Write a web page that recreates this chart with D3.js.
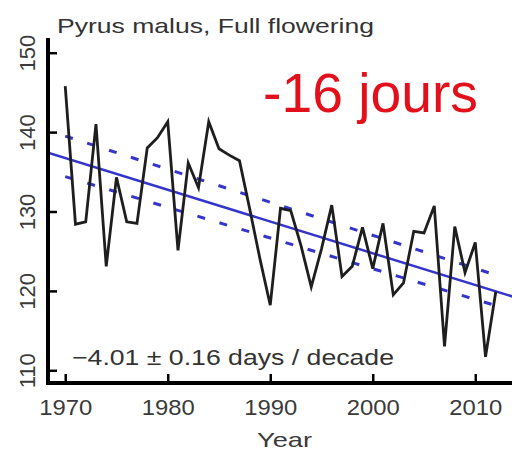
<!DOCTYPE html>
<html>
<head>
<meta charset="utf-8">
<script src="https://cdn.jsdelivr.net/npm/d3@7"></script>
<style>
  html, body { margin: 0; padding: 0; background: #fff; }
  svg { display: block; }
  text { font-family: "Liberation Sans", Arial, Helvetica, sans-serif; }
</style>
</head>
<body>
<svg id="chart" width="512" height="452"></svg>
<script>
// ---- data ----
const years = d3.range(1970, 2013);
const flowering = [
  145.8, 128.4, 128.7, 141.0, 123.1, 134.3, 128.7, 128.5, 138.0, 139.3,
  141.3, 125.1, 136.1, 133.0, 141.3, 137.9, 137.1, 136.4, 130.3, 124.0,
  118.2, 130.4, 130.1, 125.7, 120.5, 125.3, 130.8, 121.8, 123.1, 128.0,
  122.8, 128.5, 119.5, 121.0, 127.5, 127.3, 130.7, 113.0, 128.1, 122.3,
  126.1, 111.7, 119.9
];
const trendYears = [1968.32, 2013.68];
const trendValues = [137.4, 119.27];
const bandYears = [1970, 2012];
const bandUpper = [139.5, 122.0];
const bandLower = [134.4, 118.15];
const xTicks = [1970, 1980, 1990, 2000, 2010];
const yTicks = [110, 120, 130, 140, 150];
const titleText = "Pyrus malus, Full flowering";
const redText = "-16 jours";
const slopeText = "\u22124.01 \u00b1 0.16 days / decade";
const xLabel = "Year";

// ---- layout ----
const svg = d3.select("#chart");
const mLeft = 48, mRight = 513, mTop = 40, mBottom = 383;
const x = d3.scaleLinear().domain([1968.32, 2013.68]).range([mLeft, mRight]);
const y = d3.scaleLinear().domain([108.4, 151.6]).range([mBottom, mTop]);

svg.append("defs").append("clipPath").attr("id", "plotclip")
  .append("rect").attr("x", mLeft).attr("y", mTop)
  .attr("width", mRight - mLeft).attr("height", mBottom - mTop);

const plot = svg.append("g").attr("clip-path", "url(#plotclip)");
const blue = "#3535cc";

const line = d3.line().x(d => x(d[0])).y(d => y(d[1]));

// confidence band (dashed)
plot.append("path")
  .datum(bandYears.map((yr, i) => [yr, bandUpper[i]]))
  .attr("d", line).attr("fill", "none").attr("stroke", blue)
  .attr("stroke-width", 3).attr("stroke-dasharray", "8,15");
plot.append("path")
  .datum(bandYears.map((yr, i) => [yr, bandLower[i]]))
  .attr("d", line).attr("fill", "none").attr("stroke", blue)
  .attr("stroke-width", 3).attr("stroke-dasharray", "8,15");

// trend line
plot.append("path")
  .datum(trendYears.map((yr, i) => [yr, trendValues[i]]))
  .attr("d", line).attr("fill", "none").attr("stroke", blue)
  .attr("stroke-width", 2.5);

// data series
plot.append("path")
  .datum(years.map((yr, i) => [yr, flowering[i]]))
  .attr("d", line).attr("fill", "none").attr("stroke", "#1e1e1e")
  .attr("stroke-width", 2.8).attr("stroke-linejoin", "miter");

// ---- axes ----
const textColor = "#3a3a3a";
const yAxis = svg.append("g").attr("transform", `translate(${mLeft},0)`)
  .call(d3.axisLeft(y).tickValues(yTicks).tickSizeInner(-9).tickSizeOuter(0).tickFormat(d3.format("d")));
yAxis.select(".domain").remove();
yAxis.selectAll(".tick line").attr("stroke", "#000").attr("stroke-width", 2.5);
yAxis.selectAll(".tick text")
  .attr("x", null).attr("dy", null)
  .attr("transform", "translate(-13,0) rotate(-90)")
  .attr("text-anchor", "middle")
  .attr("font-size", 22).attr("fill", textColor);

const xAxis = svg.append("g").attr("transform", `translate(0,${mBottom})`)
  .call(d3.axisBottom(x).tickValues(xTicks).tickSizeInner(-9).tickSizeOuter(0).tickFormat(d3.format("d")));
xAxis.select(".domain").remove();
xAxis.selectAll(".tick line").attr("stroke", "#000").attr("stroke-width", 2.5);
xAxis.selectAll(".tick text")
  .attr("y", 32).attr("dy", null)
  .attr("text-anchor", "middle")
  .attr("font-size", 22).attr("fill", textColor)
  .attr("textLength", 53).attr("lengthAdjust", "spacingAndGlyphs");

// L-shaped box
svg.append("path")
  .attr("d", `M${mLeft},${mTop} V${mBottom} H${512}`)
  .attr("fill", "none").attr("stroke", "#000").attr("stroke-width", 4)
  .attr("stroke-linecap", "square");

// ---- texts ----
svg.append("text").attr("x", 57).attr("y", 33)
  .attr("font-size", 21).attr("fill", "#333")
  .attr("textLength", 317).attr("lengthAdjust", "spacingAndGlyphs")
  .text(titleText);

svg.append("text").attr("x", 263).attr("y", 112)
  .attr("font-size", 55).attr("fill", "#e3101b")
  .attr("textLength", 215).attr("lengthAdjust", "spacingAndGlyphs")
  .text(redText);

svg.append("text").attr("x", 72).attr("y", 365)
  .attr("font-size", 22).attr("fill", "#333")
  .attr("textLength", 322).attr("lengthAdjust", "spacingAndGlyphs")
  .text(slopeText);

svg.append("text").attr("x", 257).attr("y", 447)
  .attr("font-size", 21).attr("fill", textColor)
  .attr("textLength", 55).attr("lengthAdjust", "spacingAndGlyphs")
  .text(xLabel);
</script>
</body>
</html>
